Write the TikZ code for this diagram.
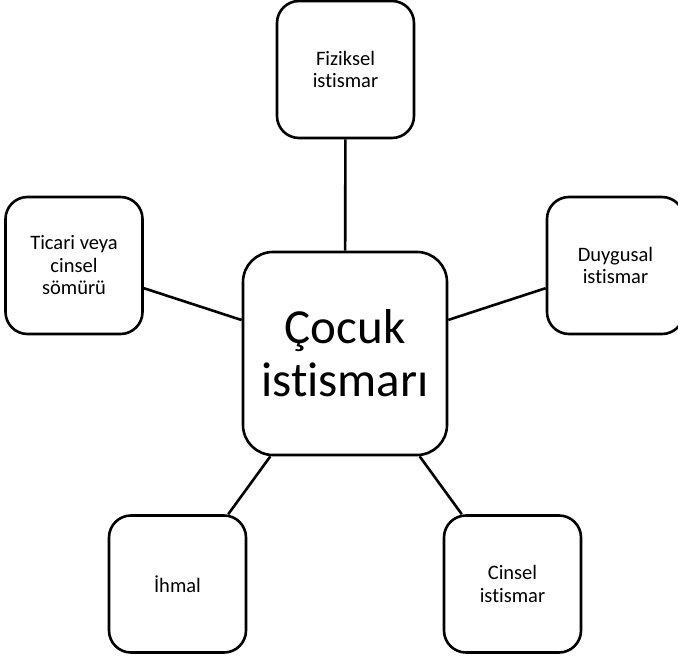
\documentclass[tikz,border=0pt]{standalone}
\usepackage{fontspec}
\setmainfont{Carlito}[Ligatures=NoCommon]
\tikzset{%
smallbox/.style={draw,line width=2.6pt,rounded corners=22pt,fill=white,
  minimum width=137pt,minimum height=137pt,align=center,
  font=\fontsize{20.5}{22.5}\selectfont},
bigbox/.style={draw,line width=2.6pt,rounded corners=30pt,fill=white,
  minimum width=204pt,minimum height=203pt,align=center,
  font=\fontsize{49}{53}\selectfont},
link/.style={line width=2.6pt},
}
\begin{document}
\begin{tikzpicture}[x=1pt,y=-1pt]
    \useasboundingbox (0,0) rectangle (678,658);
    \node[bigbox] (C) at (345,353.5) {Çocuk\\istismarı};
    \node[smallbox] (T) at (345.5,69.5) {Fiziksel\\istismar};
    \node[smallbox] (L) at (74,265.5) {Ticari veya\\cinsel\\sömürü};
    \node[smallbox] (R) at (615.5,265.5) {Duygusal\\istismar};
    \node[smallbox] (BL) at (177.5,584) {İhmal};
    \node[smallbox] (BR) at (512.5,584) {Cinsel\\istismar};
    \draw[link] (T)--(C);
    \draw[link] (L)--(C);
    \draw[link] (R)--(C);
    \draw[link] (BL)--(C);
    \draw[link] (BR)--(C);
\end{tikzpicture}
\end{document}
